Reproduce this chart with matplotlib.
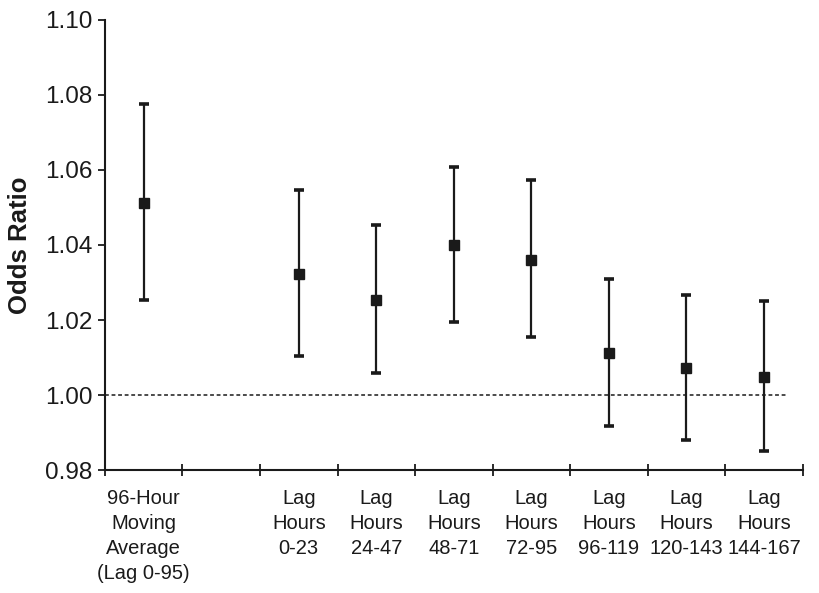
import matplotlib.pyplot as plt
import numpy as np

plt.rcParams['font.family'] = ['Liberation Sans', 'DejaVu Sans']

# categories (the empty one is the gap after the moving average)
categories = ["96-Hour\nMoving\nAverage\n(Lag 0-95)", "",
              "Lag\nHours\n0-23", "Lag\nHours\n24-47", "Lag\nHours\n48-71",
              "Lag\nHours\n72-95", "Lag\nHours\n96-119", "Lag\nHours\n120-143",
              "Lag\nHours\n144-167"]
odds_ratio = [1.0512, 1.0323, 1.0253, 1.0399, 1.0361, 1.0111, 1.0071, 1.0049]
ci_lower = [1.0253, 1.0104, 1.0058, 1.0194, 1.0156, 0.9917, 0.9880, 0.9850]
ci_upper = [1.0776, 1.0546, 1.0454, 1.0609, 1.0572, 1.0309, 1.0267, 1.0252]
y_ticks = [0.98, 1.00, 1.02, 1.04, 1.06, 1.08, 1.10]

col = '#1a1a1a'
pos = np.array([i for i, c in enumerate(categories) if c]) + 0.5
odds = np.array(odds_ratio)
err = [odds - np.array(ci_lower), np.array(ci_upper) - odds]

fig = plt.figure(figsize=(8.2, 5.93), dpi=100)
ax = fig.add_axes([0.128, 0.2074, 0.851, 0.7589])

ax.hlines(1.0, 0, 8.8, colors=col, linewidth=1.1, linestyles=(0, (2.5, 1.8)))
ax.errorbar(pos, odds, yerr=err, fmt='s', color=col, markersize=7,
            elinewidth=1.6, capsize=3.3, capthick=2.6, zorder=3)

ax.set_xlim(0, len(categories))
ax.set_ylim(0.98, 1.10)
ax.set_yticks(y_ticks)
ax.set_yticklabels(["%.2f" % v for v in y_ticks], fontsize=17.5, color=col)

ax.set_xticks(np.arange(len(categories) + 1))
ax.set_xticklabels([])
ax.set_xticks(np.arange(len(categories)) + 0.5, minor=True)
ax.set_xticklabels(categories, minor=True, fontsize=14.5, color=col,
                   linespacing=1.38, va='top')
ax.tick_params(axis='x', which='major', direction='inout', length=9,
               width=1.3, color=col)
ax.tick_params(axis='x', which='minor', length=0, pad=14)
ax.tick_params(axis='y', direction='out', length=5, width=1.3, color=col,
               pad=4)

ax.spines['top'].set_visible(False)
ax.spines['right'].set_visible(False)
for s in ['left', 'bottom']:
    ax.spines[s].set_linewidth(1.5)
    ax.spines[s].set_color(col)

ax.set_ylabel("Odds Ratio", fontsize=18.5, fontweight='bold', color=col,
              labelpad=9)

plt.savefig('out.png', dpi=100)
